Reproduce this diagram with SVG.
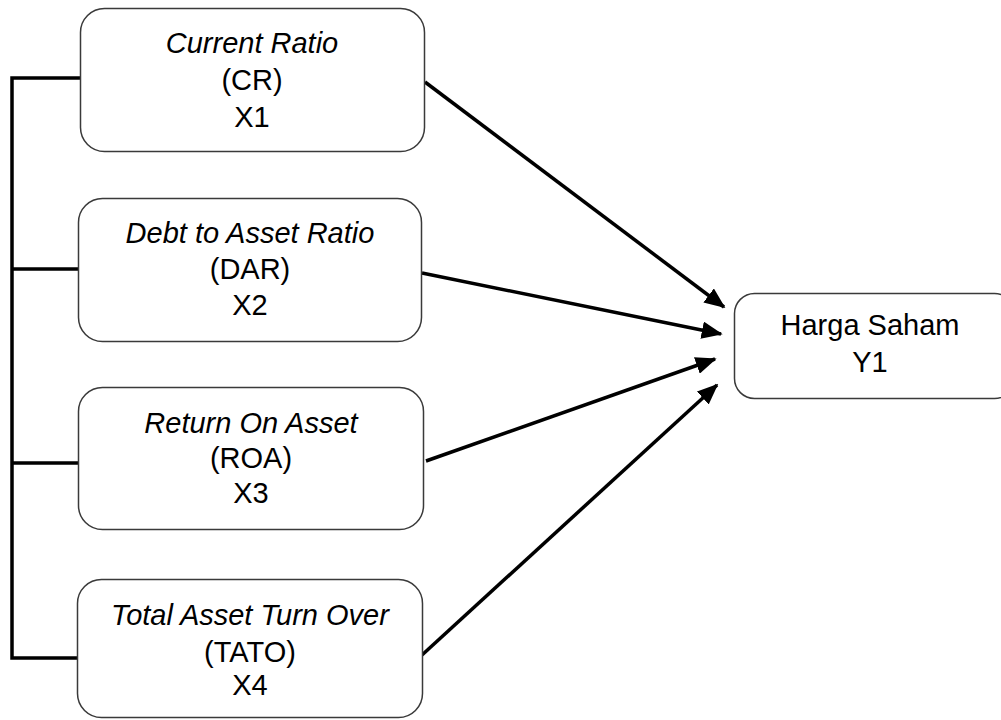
<svg xmlns="http://www.w3.org/2000/svg" width="1001" height="720" viewBox="0 0 1001 720">
<style>
.box{fill:#fff;stroke:#3a3a3a;stroke-width:1.5}
.t{font-family:"Liberation Sans",Arial,sans-serif;font-size:29px;fill:#000;text-anchor:middle}
.i{font-style:italic}
.c{stroke:#000;stroke-width:3.5;fill:none}
</style>
<defs>
<marker id="ah" markerWidth="6" markerHeight="5" refX="5.5" refY="2.5" orient="auto" markerUnits="strokeWidth">
<path d="M0,0 L6,2.5 L0,5 z" fill="#000"/>
</marker>
</defs>
<rect width="1001" height="720" fill="#fff"/>
<g id="connectors">
<path class="c" d="M80,78 H12 V658 H80 M12,269 H80 M12,463 H80"/>
<line class="c" x1="425" y1="82" x2="724" y2="307" marker-end="url(#ah)"/>
<line class="c" x1="422" y1="273" x2="721" y2="334" marker-end="url(#ah)"/>
<line class="c" x1="426" y1="461" x2="715" y2="359" marker-end="url(#ah)"/>
<line class="c" x1="422" y1="655" x2="717" y2="385" marker-end="url(#ah)"/>
</g>
<g id="n1">
<rect class="box" x="80.5" y="8.5" width="344" height="143" rx="24"/>
<text class="t i" x="252" y="53">Current Ratio</text>
<text class="t" x="252" y="90">(CR)</text>
<text class="t" x="252" y="127">X1</text>
</g>
<g id="n2">
<rect class="box" x="78.5" y="198.5" width="343" height="143" rx="24"/>
<text class="t i" x="250" y="243">Debt to Asset Ratio</text>
<text class="t" x="250" y="279">(DAR)</text>
<text class="t" x="250" y="315">X2</text>
</g>
<g id="n3">
<rect class="box" x="78.5" y="387.5" width="345" height="142" rx="24"/>
<text class="t i" x="251" y="433">Return On Asset</text>
<text class="t" x="251" y="468">(ROA)</text>
<text class="t" x="251" y="503">X3</text>
</g>
<g id="n4">
<rect class="box" x="77.5" y="579.5" width="345" height="138" rx="24"/>
<text class="t i" x="250" y="625">Total Asset Turn Over</text>
<text class="t" x="250" y="662">(TATO)</text>
<text class="t" x="250" y="695">X4</text>
</g>
<g id="y1">
<rect class="box" x="734.5" y="293.5" width="280" height="105" rx="20"/>
<text class="t" x="870" y="335">Harga Saham</text>
<text class="t" x="870" y="372">Y1</text>
</g>
</svg>
